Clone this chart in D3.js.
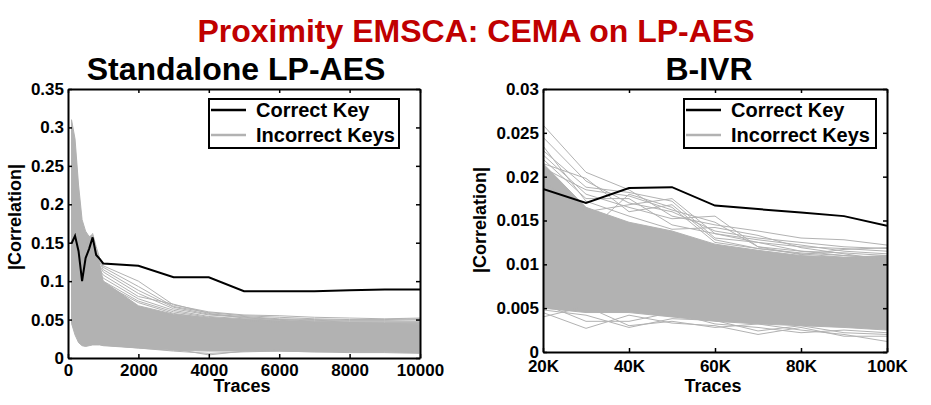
<!DOCTYPE html>
<html>
<head>
<meta charset="utf-8">
<script src="https://cdn.jsdelivr.net/npm/d3@7"></script>
<style>
  body { margin: 0; background: #fff; }
  svg { display: block; font-family: "Liberation Sans", Arial, sans-serif; }
</style>
</head>
<body>
<svg id="chart" width="931" height="405"></svg>
<script>
// ---- data ----
// left panel: standalone LP-AES
const leftTraces = [100, 200, 300, 400, 500, 600, 700, 800, 900, 1000, 2000, 3000, 4000, 5000, 6000, 7000, 8000, 9000, 10000];
const leftCorrect = [0.149, 0.159, 0.139, 0.100, 0.130, 0.142, 0.157, 0.134, 0.129, 0.123, 0.120, 0.105, 0.105, 0.087, 0.087, 0.087, 0.088, 0.089, 0.089];
// dense core of the 255 wrong-key curves (upper / lower edge)
const leftBandTop = [0.31, 0.285, 0.225, 0.18, 0.165, 0.158, 0.16, 0.14, 0.122, 0.1, 0.068, 0.057, 0.052, 0.05, 0.048, 0.047, 0.046, 0.045, 0.044];
const leftBandBottom = [0.045, 0.03, 0.02, 0.016, 0.015, 0.016, 0.017, 0.017, 0.017, 0.016, 0.013, 0.01, 0.009, 0.009, 0.009, 0.008, 0.008, 0.008, 0.007];
// single wrong-key curves that stick out of the core
const leftWrong = [
  [0.30, 0.27, 0.21, 0.17, 0.16, 0.155, 0.162, 0.145, 0.13, 0.12, 0.1, 0.069, 0.06, 0.056, 0.055, 0.053, 0.052, 0.051, 0.052],
  [0.28, 0.25, 0.2, 0.16, 0.15, 0.15, 0.155, 0.14, 0.128, 0.118, 0.093, 0.067, 0.059, 0.055, 0.053, 0.051, 0.05, 0.05, 0.051],
  [0.26, 0.23, 0.19, 0.15, 0.14, 0.145, 0.15, 0.135, 0.125, 0.115, 0.088, 0.066, 0.057, 0.054, 0.051, 0.05, 0.049, 0.049, 0.05],
  [0.22, 0.2, 0.17, 0.14, 0.13, 0.14, 0.14, 0.13, 0.12, 0.112, 0.084, 0.064, 0.056, 0.053, 0.05, 0.049, 0.048, 0.048, 0.048],
  [0.2, 0.18, 0.15, 0.13, 0.12, 0.13, 0.135, 0.125, 0.115, 0.108, 0.08, 0.07, 0.058, 0.052, 0.05, 0.048, 0.047, 0.047, 0.047],
  [0.18, 0.16, 0.14, 0.12, 0.115, 0.12, 0.13, 0.12, 0.11, 0.104, 0.077, 0.062, 0.054, 0.051, 0.049, 0.047, 0.046, 0.046, 0.046],
  [0.16, 0.15, 0.13, 0.11, 0.11, 0.115, 0.12, 0.115, 0.108, 0.1, 0.074, 0.06, 0.053, 0.05, 0.048, 0.046, 0.045, 0.045, 0.045],
  [0.14, 0.13, 0.12, 0.1, 0.1, 0.11, 0.115, 0.11, 0.104, 0.097, 0.072, 0.058, 0.052, 0.049, 0.047, 0.045, 0.045, 0.044, 0.044],
  [0.07, 0.045, 0.03, 0.018, 0.016, 0.02, 0.024, 0.022, 0.02, 0.019, 0.014, 0.012, 0.004, 0.009, 0.01, 0.009, 0.008, 0.008, 0.007],
  [0.09, 0.05, 0.032, 0.022, 0.02, 0.018, 0.019, 0.018, 0.018, 0.017, 0.013, 0.009, 0.006, 0.008, 0.009, 0.008, 0.007, 0.007, 0.006]
];
const leftXTicks = [0, 2000, 4000, 6000, 8000, 10000];
const leftYTicks = [0, 0.05, 0.1, 0.15, 0.2, 0.25, 0.3, 0.35];

// right panel: B-IVR
const rightTraces = [20000, 30000, 40000, 50000, 60000, 70000, 80000, 90000, 100000];
const rightCorrect = [0.0186, 0.0170, 0.0187, 0.0188, 0.0167, 0.0163, 0.0159, 0.0155, 0.0144];
const rightBandTop = [0.0215, 0.0165, 0.0148, 0.0138, 0.0123, 0.0116, 0.011, 0.0108, 0.011];
const rightBandBottom = [0.005, 0.0045, 0.0045, 0.004, 0.0035, 0.0032, 0.003, 0.0028, 0.0025];
const rightWrong = [
  [0.0259, 0.0205, 0.0185, 0.0155, 0.0145, 0.0138, 0.013, 0.0128, 0.0122],
  [0.0245, 0.0195, 0.017, 0.016, 0.0138, 0.013, 0.0125, 0.012, 0.0118],
  [0.023, 0.0188, 0.0182, 0.0172, 0.013, 0.0125, 0.012, 0.0118, 0.0115],
  [0.0225, 0.018, 0.0165, 0.0152, 0.0155, 0.012, 0.0115, 0.0113, 0.011],
  [0.022, 0.0175, 0.0175, 0.0145, 0.0135, 0.0128, 0.0122, 0.0115, 0.0112],
  [0.0215, 0.0198, 0.016, 0.0168, 0.0128, 0.0118, 0.0113, 0.011, 0.0108],
  [0.0235, 0.0172, 0.0155, 0.014, 0.0142, 0.0133, 0.0119, 0.0112, 0.0105],
  [0.021, 0.0185, 0.0178, 0.0162, 0.0148, 0.012, 0.0111, 0.0117, 0.0119],
  [0.017, 0.0135, 0.018, 0.0165, 0.0125, 0.0118, 0.0112, 0.0108, 0.0105],
  [0.0195, 0.016, 0.0168, 0.0175, 0.0135, 0.0125, 0.0115, 0.011, 0.0107],
  [0.004, 0.0052, 0.003, 0.0035, 0.0028, 0.0032, 0.0025, 0.002, 0.0012],
  [0.0045, 0.0027, 0.0042, 0.0033, 0.003, 0.002, 0.0028, 0.0018, 0.0018],
  [0.0055, 0.0035, 0.0035, 0.0045, 0.0032, 0.0028, 0.0022, 0.0025, 0.0022],
  [0.0048, 0.0042, 0.0028, 0.0038, 0.0036, 0.0024, 0.003, 0.0022, 0.002]
];
const rightXTicks = [20000, 40000, 60000, 80000, 100000];
const rightYTicks = [0, 0.005, 0.01, 0.015, 0.02, 0.025, 0.03];

const gray = '#b2b2b2';
const svg = d3.select('#chart');

svg.append('text')
  .attr('x', 476).attr('y', 42)
  .attr('text-anchor', 'middle')
  .attr('font-size', 32).attr('font-weight', 'bold')
  .attr('fill', '#c00000')
  .text('Proximity EMSCA: CEMA on LP-AES');

function drawPanel(p) {
  const x = d3.scaleLinear().domain(p.xDomain).range([p.left, p.right]);
  const y = d3.scaleLinear().domain(p.yDomain).range([p.bottom, p.top]);
  const g = svg.append('g');

  g.append('clipPath').attr('id', p.id + '-clip')
    .append('rect')
    .attr('x', p.left).attr('y', p.top)
    .attr('width', p.right - p.left).attr('height', p.bottom - p.top);

  const plot = g.append('g').attr('clip-path', `url(#${p.id}-clip)`);

  // wrong keys: dense core as an area, outliers as lines
  const band = p.traces.map((t, i) => ({ t: t, hi: p.bandTop[i], lo: p.bandBottom[i] }));
  plot.append('path')
    .datum(band)
    .attr('fill', gray)
    .attr('stroke', gray)
    .attr('stroke-width', 1)
    .attr('d', d3.area().x(d => x(d.t)).y0(d => y(d.lo)).y1(d => y(d.hi)));

  const line = d3.line().x((d, i) => x(p.traces[i])).y(d => y(d));
  plot.selectAll('path.wrong')
    .data(p.wrong)
    .enter().append('path')
    .attr('class', 'wrong')
    .attr('fill', 'none')
    .attr('stroke', gray)
    .attr('stroke-width', 1)
    .attr('d', line);

  plot.append('path')
    .datum(p.correct)
    .attr('fill', 'none')
    .attr('stroke', '#000')
    .attr('stroke-width', 2)
    .attr('d', line);

  // axes, ticks pointing inwards on all four sides
  const fmtY = d3.format('~g');
  const axes = [
    { ax: d3.axisBottom(x).tickValues(p.xTicks).tickFormat(p.xFormat).tickPadding(p.xPad), tr: `translate(0,${p.bottom})` },
    { ax: d3.axisTop(x).tickValues(p.xTicks).tickFormat(''), tr: `translate(0,${p.top})` },
    { ax: d3.axisLeft(y).tickValues(p.yTicks).tickFormat(fmtY).tickPadding(4), tr: `translate(${p.left},0)` },
    { ax: d3.axisRight(y).tickValues(p.yTicks).tickFormat(''), tr: `translate(${p.right},0)` }
  ];
  axes.forEach(a => {
    const ag = g.append('g')
      .attr('transform', a.tr)
      .call(a.ax.tickSizeInner(-4).tickSizeOuter(0));
    ag.select('.domain').attr('stroke', '#000').attr('stroke-width', 2);
    ag.selectAll('.tick line').attr('stroke', '#000').attr('stroke-width', 1.5);
    ag.selectAll('.tick text')
      .attr('font-family', '"Liberation Sans", Arial, sans-serif')
      .attr('font-size', 17).attr('font-weight', 'bold').attr('fill', '#000');
  });

  // panel title and axis labels
  g.append('text')
    .attr('x', p.titleX).attr('y', 80)
    .attr('text-anchor', 'middle')
    .attr('font-size', 32).attr('font-weight', 'bold')
    .text(p.title);
  g.append('text')
    .attr('x', (p.left + p.right) / 2 - 2).attr('y', 392)
    .attr('text-anchor', 'middle')
    .attr('font-size', 18).attr('font-weight', 'bold')
    .text('Traces');
  g.append('text')
    .attr('transform', `translate(${p.yLabelX},${p.yLabelY}) rotate(-90)`)
    .attr('text-anchor', 'middle')
    .attr('font-size', 18).attr('font-weight', 'bold')
    .text('|Correlation|');

  // legend
  const lg = g.append('g').attr('transform', `translate(${p.legendX},99)`);
  lg.append('rect')
    .attr('width', p.legendW).attr('height', 49)
    .attr('fill', '#fff').attr('stroke', '#000').attr('stroke-width', 2);
  const items = [{ name: 'Correct Key', color: '#000' }, { name: 'Incorrect Keys', color: gray }];
  items.forEach((it, i) => {
    const yy = 11 + i * 25;
    lg.append('line')
      .attr('x1', 2).attr('x2', 37).attr('y1', yy).attr('y2', yy)
      .attr('stroke', it.color).attr('stroke-width', 2.5);
    lg.append('text')
      .attr('x', 47).attr('y', yy + 7)
      .attr('font-size', 20).attr('font-weight', 'bold')
      .text(it.name);
  });
}

drawPanel({
  id: 'lp', title: 'Standalone LP-AES', titleX: 236,
  left: 68, right: 420, top: 89, bottom: 358,
  xDomain: [0, 10000], yDomain: [0, 0.35],
  xTicks: leftXTicks, yTicks: leftYTicks, xFormat: d3.format('d'), xPad: 6,
  traces: leftTraces, correct: leftCorrect, wrong: leftWrong,
  bandTop: leftBandTop, bandBottom: leftBandBottom,
  yLabelX: 21, yLabelY: 217, legendX: 209, legendW: 190
});

drawPanel({
  id: 'ivr', title: 'B-IVR', titleX: 709,
  left: 543, right: 887, top: 89, bottom: 352,
  xDomain: [20000, 100000], yDomain: [0, 0.03],
  xTicks: rightXTicks, yTicks: rightYTicks, xFormat: d => (d / 1000) + 'K', xPad: 8,
  traces: rightTraces, correct: rightCorrect, wrong: rightWrong,
  bandTop: rightBandTop, bandBottom: rightBandBottom,
  yLabelX: 486, yLabelY: 220, legendX: 684, legendW: 192
});
</script>
</body>
</html>
